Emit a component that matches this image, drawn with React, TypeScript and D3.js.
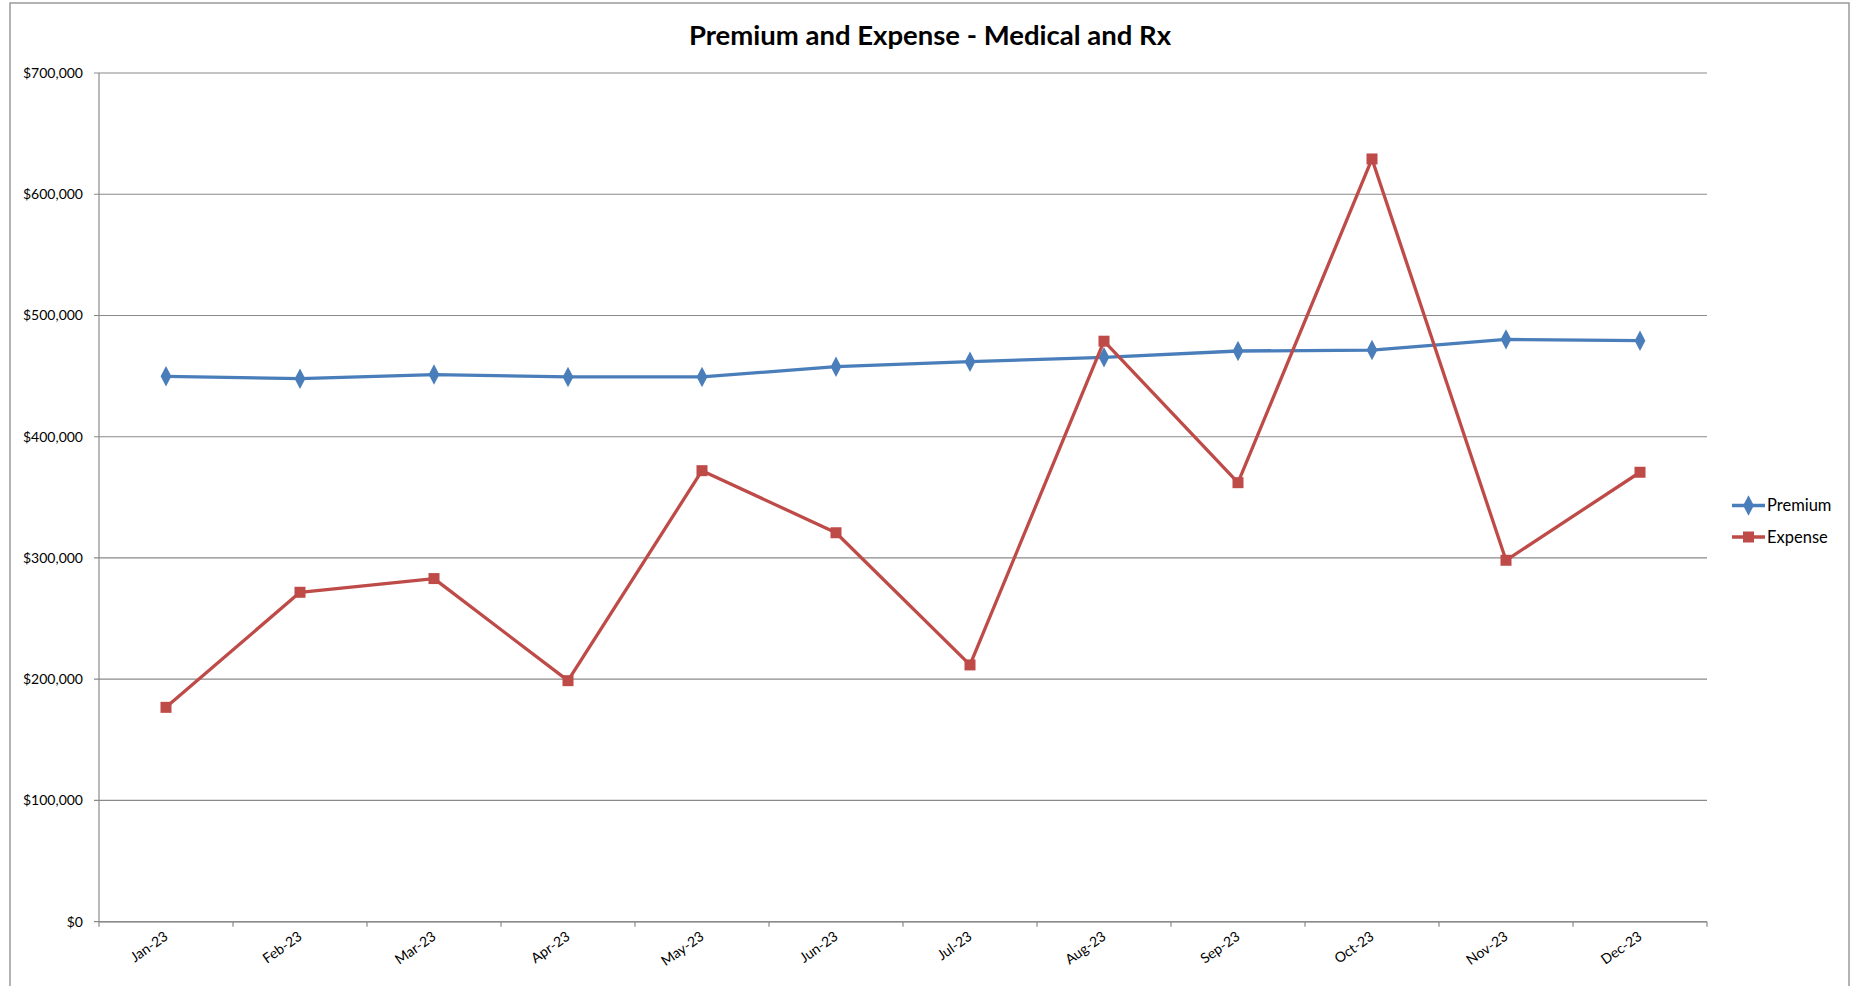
import React from "react";
import * as d3 from "d3";

const months = ["Jan-23","Feb-23","Mar-23","Apr-23","May-23","Jun-23","Jul-23","Aug-23","Sep-23","Oct-23","Nov-23","Dec-23"];
const premium = [449800, 447900, 451300, 449300, 449300, 457800, 461900, 465500, 470700, 471500, 480300, 479200];
const expense = [176800, 271700, 283000, 198800, 372000, 320800, 211800, 478800, 362100, 629100, 298100, 370700];
const yTicks = [0, 100000, 200000, 300000, 400000, 500000, 600000, 700000];
const title = "Premium and Expense - Medical and Rx";
const seriesNames = ["Premium", "Expense"];

const W = 1856, H = 986;
const left = 99, right = 1707, top = 73, bottom = 921.7;
const FONT = "Lato, 'Open Sans', sans-serif";
const BLUE = "#4A7EBB", RED = "#BE4B48";

export default function App() {
  const x = d3.scaleBand<string>().domain(months).range([left, right]).paddingInner(0).paddingOuter(0);
  const y = d3.scaleLinear().domain([0, 700000]).range([bottom, top]);
  const cx = (m: string) => (x(m) as number) + x.bandwidth() / 2;
  const line = d3.line<number>().x((_, i) => cx(months[i])).y((d) => y(d));
  const fmt = (v: number) => "$" + d3.format(",")(v);
  const boundaries = d3.range(months.length + 1).map((i) => left + i * x.bandwidth());
  const diamond = d3.symbol().type(d3.symbolDiamond).size(100)() as string;

  return (
    <svg width={W} height={H} style={{ position: "absolute", left: 0, top: 0, background: "#fff" }}>
      <rect x={10} y={3} width={1839} height={1000} fill="#fff" stroke="#9a9a9a" strokeWidth={1.5} />
      <text x={930} y={45} textAnchor="middle" fontFamily={FONT} fontWeight="bold" fontSize={27.5} fill="#000">{title}</text>
      {yTicks.map((t) => (
        <g key={t}>
          <line x1={94} x2={right} y1={y(t)} y2={y(t)} stroke="#8a8a8a" strokeWidth={1.2} />
          <text x={83} y={y(t) + 5} textAnchor="end" fontFamily={FONT} fontSize={14} fill="#000">{fmt(t)}</text>
        </g>
      ))}
      <line x1={left} x2={left} y1={top} y2={bottom} stroke="#8a8a8a" strokeWidth={1.2} />
      <line x1={left} x2={right} y1={bottom} y2={bottom} stroke="#8a8a8a" strokeWidth={1.5} />
      {boundaries.map((b, i) => (
        <line key={i} x1={b} x2={b} y1={bottom} y2={bottom + 5} stroke="#8a8a8a" strokeWidth={1.2} />
      ))}
      {months.map((m) => (
        <text key={m} transform={`translate(${cx(m) + 3},${bottom + 17}) rotate(-35)`} textAnchor="end" fontFamily={FONT} fontSize={14} fill="#000">{m}</text>
      ))}
      <path d={line(premium) as string} fill="none" stroke={BLUE} strokeWidth={3.3} strokeLinejoin="round" />
      {premium.map((v, i) => (
        <path key={i} d={diamond} transform={`translate(${cx(months[i])},${y(v)}) scale(1,1.1)`} fill={BLUE} />
      ))}
      <path d={line(expense) as string} fill="none" stroke={RED} strokeWidth={3.3} strokeLinejoin="round" />
      {expense.map((v, i) => (
        <rect key={i} x={cx(months[i]) - 5.5} y={y(v) - 5.5} width={11} height={11} fill={RED} />
      ))}
      <g>
        <line x1={1732} x2={1765} y1={505.5} y2={505.5} stroke={BLUE} strokeWidth={3.3} />
        <path d={diamond} transform={`translate(1748.5,505.5) scale(1,1.1)`} fill={BLUE} />
        <text x={1767} y={511} fontFamily={FONT} fontSize={16.5} fill="#000">{seriesNames[0]}</text>
        <line x1={1732} x2={1765} y1={537} y2={537} stroke={RED} strokeWidth={3.3} />
        <rect x={1743} y={531.5} width={11} height={11} fill={RED} />
        <text x={1767} y={542.5} fontFamily={FONT} fontSize={16.5} fill="#000">{seriesNames[1]}</text>
      </g>
    </svg>
  );
}
